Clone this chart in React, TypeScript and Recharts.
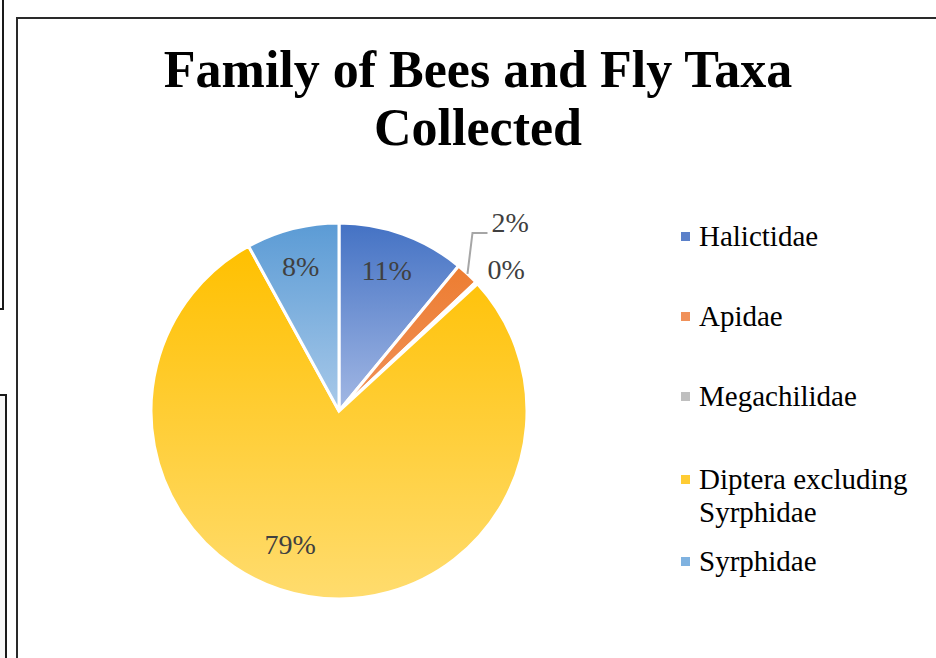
import React from "react";
import { PieChart, Pie, Cell, Legend } from "recharts";

// Family of bees and fly taxa collected (shares, %)
const families = ["Halictidae", "Apidae", "Megachilidae", "Diptera excluding Syrphidae", "Syrphidae"];
const shares = [11, 2, 0.2, 79, 8];
const gradTop = ["#4472C4", "#ED7D31", "#A5A5A5", "#FFC000", "#5B9BD5"];
const gradBottom = ["#A3B8E4", "#F0925A", "#BDBDBD", "#FFDC6E", "#A8C9E9"];
const legendColors = ["#5B80C9", "#F0915A", "#BFBFBF", "#FFCC33", "#7FB2E0"];
// label nudges (Excel "best fit" placement)
const labelNudge = [[-2, -2], [0, 0], [0, 0], [-25, -11], [-2, -2]];

const SERIF = '"Times New Roman", "Liberation Serif", serif';
const LABEL = "#404040";
const RAD = Math.PI / 180;

const data = families.map((name, i) => ({ name, value: shares[i] }));

function renderLabel(p: any) {
  const { cx, cy, midAngle, outerRadius, percent, index } = p;
  const txt = `${Math.round(percent * 100)}%`;
  const cos = Math.cos(-midAngle * RAD);
  const sin = Math.sin(-midAngle * RAD);
  if (index === 1) {
    // small slice: leader line up and out
    const ex = cx + outerRadius * cos;
    const ey = cy + outerRadius * sin;
    const ly = cy - 178;
    return (
      <g key="l1">
        <polyline points={`${ex},${ey} ${ex + 5},${ly} ${ex + 20},${ly}`} fill="none" stroke="#A6A6A6" strokeWidth={2} />
        <text x={ex + 24} y={ly - 1} fill={LABEL} fontFamily={SERIF} fontSize={28}>{txt}</text>
      </g>
    );
  }
  if (index === 2) {
    const ex = cx + (outerRadius + 4) * cos;
    const ey = cy + (outerRadius + 4) * sin;
    return (
      <text key="l2" x={ex + 8} y={ey - 11} fill={LABEL} fontFamily={SERIF} fontSize={28} dominantBaseline="central">{txt}</text>
    );
  }
  const r = outerRadius * 0.78;
  const [dx, dy] = labelNudge[index];
  return (
    <text key={`l${index}`} x={cx + r * cos + dx} y={cy + r * sin + dy} fill={LABEL} fontFamily={SERIF} fontSize={28}
      textAnchor="middle" dominantBaseline="central">{txt}</text>
  );
}

function LegendList() {
  const gaps = [0, 80, 80, 83, 82];
  return (
    <div style={{ fontFamily: SERIF, fontSize: 29, color: "#000", lineHeight: "33px" }}>
      {families.map((f, i) => {
        const parts = f === "Diptera excluding Syrphidae" ? ["Diptera excluding", "Syrphidae"] : [f];
        return (
          <div key={f} style={{ display: "flex", alignItems: "flex-start", marginTop: i === 0 ? 0 : gaps[i] - 33 - (i === 4 ? 33 : 0) }}>
            <span style={{ width: 9, height: 9, background: legendColors[i], marginTop: 12, marginRight: 9, flex: "none" }} />
            <span>{parts.map((t) => <div key={t}>{t}</div>)}</span>
          </div>
        );
      })}
    </div>
  );
}

export default function App() {
  return (
    <div style={{ position: "fixed", left: 0, top: 0, width: 936, height: 658, overflow: "hidden", background: "#fff" }}>
      {/* surrounding page boxes */}
      <div style={{ position: "absolute", left: -12, top: -4, width: 12, height: 310, border: "2px solid #1a1a1a" }} />
      <div style={{ position: "absolute", left: -12, top: 394, width: 15, height: 300, border: "2px solid #1a1a1a", background: "#f7f7f7" }} />
      <div style={{ position: "absolute", left: 16, top: 17, width: 1000, height: 700, border: "2px solid #2a2a2a" }} />

      <div style={{ position: "absolute", left: 0, top: 41, width: 956, textAlign: "center", fontFamily: SERIF, fontWeight: 700, fontSize: 52, lineHeight: "58px", color: "#000" }}>
        Family of Bees and Fly Taxa
        <br />
        Collected
      </div>

      <div style={{ position: "absolute", left: 0, top: 0 }}>
        <PieChart width={936} height={658}>
          <defs>
            {families.map((f, i) => (
              <linearGradient key={f} id={`g${i}`} x1="0" y1="0" x2="0" y2="1">
                <stop offset="0%" stopColor={gradTop[i]} />
                <stop offset="100%" stopColor={gradBottom[i]} />
              </linearGradient>
            ))}
          </defs>
          <Pie
            data={data}
            dataKey="value"
            nameKey="name"
            cx={334}
            cy={406}
            outerRadius={188}
            startAngle={90}
            endAngle={-270}
            stroke="#fff"
            strokeWidth={3}
            label={renderLabel}
            labelLine={false}
            isAnimationActive={false}
          >
            {data.map((d, i) => <Cell key={d.name} fill={`url(#g${i})`} />)}
          </Pie>
          <Legend content={() => <LegendList />} wrapperStyle={{ left: 681, top: 220, width: 250, bottom: "auto" }} />
        </PieChart>
      </div>
    </div>
  );
}
